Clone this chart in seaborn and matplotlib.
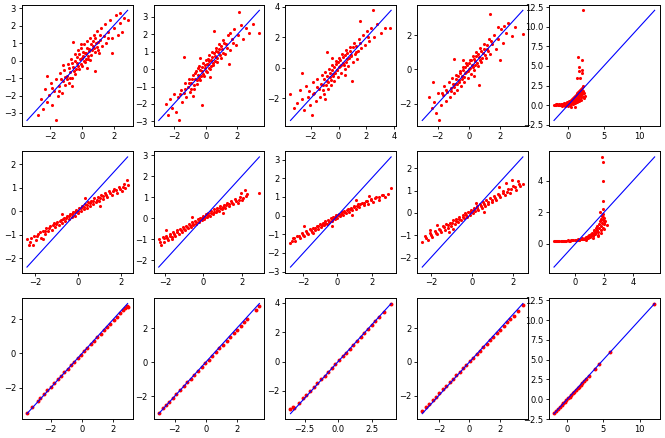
import matplotlib

matplotlib.use("Agg")
import matplotlib.pyplot as plt
import numpy as np
import seaborn as sns

# true value vs prediction, one list of (x, y) pairs per panel
# row 1
p11 = [(-2.72, -3.12), (-2.55, -2.21), (-2.41, -2.75), (-2.30, -1.62), (-2.18, -2.38), (-2.05, -1.98),
       (-1.93, -1.31), (-1.85, -2.55), (-1.74, -1.72), (-1.62, -3.43), (-1.58, -1.05), (-1.50, -2.02),
       (-1.41, -1.48), (-1.33, -0.71), (-1.25, -1.83), (-1.17, -1.15), (-1.08, -0.52), (-1.02, -1.42),
       (-0.95, -0.88), (-0.88, -0.21), (-0.81, -1.26), (-0.73, -0.64), (-0.66, 0.12), (-0.60, -0.97),
       (-0.52, -0.38), (-0.45, 0.35), (-0.39, -0.74), (-0.31, -0.12), (-0.24, 0.58), (-0.18, -0.46),
       (-0.10, 0.09), (-0.03, 0.71), (0.03, -0.31), (0.10, 0.26), (0.17, 0.93), (0.22, -0.08),
       (0.29, 0.45), (0.36, 1.12), (0.41, 0.12), (0.48, 0.66), (0.55, 1.32), (0.61, 0.31),
       (0.68, 0.84), (0.75, 1.48), (0.82, 0.49), (0.89, 1.02), (0.97, 1.71), (1.04, 0.63),
       (1.12, 1.18), (1.20, 1.89), (1.29, 0.82), (1.37, 1.41), (1.46, 2.12), (1.55, 1.02),
       (1.66, 1.63), (1.78, 2.35), (1.90, 1.27), (2.03, 1.88), (2.15, 2.61), (2.28, 1.47),
       (2.41, 2.18), (2.55, 1.61), (2.68, 2.43), (2.88, 2.31), (1.92, 0.45), (-0.52, 1.05),
       (0.85, -0.62), (2.40, 2.75), (-2.20, -0.90)]
e11 = [(-1.05, -0.95), (-0.92, -1.05), (-0.77, -0.45), (-0.71, -0.98), (-0.58, -0.12), (-0.47, -0.62),
       (-0.41, -0.05), (-0.35, -0.48), (-0.27, 0.21), (-0.21, -0.29), (-0.14, 0.38), (-0.06, -0.22),
       (0.01, 0.15), (0.07, 0.52), (0.13, -0.05), (0.19, 0.41), (0.25, 0.12), (0.31, 0.72),
       (0.38, 0.28), (0.44, 0.55), (0.51, 0.05), (0.57, 0.95), (0.63, 0.58), (0.72, 1.12),
       (0.79, 0.71), (0.86, 1.28), (0.93, 0.78), (1.01, 1.05), (1.09, 0.42), (1.15, 1.45),
       (-1.32, -1.05), (-1.45, -1.72), (-1.88, -1.55), (0.35, -0.42), (-0.05, 0.95), (1.62, 1.32),
       (-0.62, -1.48), (-1.15, -0.28)]
p12 = [(-2.52, -1.98), (-2.38, -2.61), (-2.21, -1.72), (-2.10, -2.25), (-1.98, -1.41), (-1.86, -2.48),
       (-1.74, -1.62), (-1.68, -2.95), (-1.57, -1.18), (-1.49, -1.91), (-1.38, -1.36), (-1.29, -0.82),
       (-1.21, -1.58), (-1.12, -1.02), (-1.04, -0.58), (-0.97, -1.33), (-0.89, -0.81), (-0.82, -0.31),
       (-0.75, -1.12), (-0.68, -0.56), (-0.61, -0.08), (-0.54, -0.87), (-0.47, -0.35), (-0.40, 0.16),
       (-0.33, -0.62), (-0.26, -0.12), (-0.19, 0.38), (-0.12, -0.39), (-0.05, 0.08), (0.02, 0.55),
       (0.08, -0.18), (0.15, 0.31), (0.22, 0.79), (0.28, 0.02), (0.35, 0.52), (0.42, 1.01),
       (0.49, 0.21), (0.56, 0.73), (0.63, 1.22), (0.70, 0.42), (0.78, 0.96), (0.86, 1.45),
       (0.94, 0.62), (1.02, 1.18), (1.11, 1.68), (1.20, 0.85), (1.30, 1.42), (1.41, 1.95),
       (1.52, 1.08), (1.64, 1.71), (1.77, 2.28), (1.90, 1.36), (2.05, 1.98), (2.12, 3.27),
       (2.22, 2.52), (2.38, 1.75), (2.55, 2.38), (2.72, 2.05), (2.95, 2.62), (3.38, 2.05),
       (-1.35, 0.72), (-0.22, -2.05), (1.45, 0.28), (0.55, 2.18)]
e12 = [(-1.02, -0.78), (-0.93, -1.12), (-0.84, -0.55), (-0.76, -0.92), (-0.64, -0.22), (-0.55, -0.61),
       (-0.49, 0.05), (-0.42, -0.52), (-0.36, -0.05), (-0.28, -0.41), (-0.21, 0.12), (-0.14, -0.28),
       (-0.07, 0.25), (0.01, -0.12), (0.06, 0.32), (0.12, 0.61), (0.18, 0.08), (0.24, 0.45),
       (0.31, 0.18), (0.37, 0.72), (0.45, 0.35), (0.52, 0.92), (0.59, 0.48), (0.66, 1.05),
       (0.74, 0.62), (0.82, 1.15), (0.91, 0.81), (0.99, 1.31), (1.08, 0.95), (1.18, 1.52),
       (1.36, 1.21), (-1.31, -1.12), (-1.62, -1.45), (0.25, -0.45), (-0.35, 0.65), (1.72, 1.48),
       (-0.82, -1.55), (1.55, 2.05)]
p13 = [(-3.45, -1.72), (-3.21, -2.62), (-2.95, -2.28), (-2.78, -1.45), (-2.62, -2.05), (-2.45, -2.78),
       (-2.31, -1.21), (-2.18, -1.88), (-2.05, -2.41), (-1.92, -3.08), (-1.86, -0.95), (-1.75, -1.62),
       (-1.63, -2.15), (-1.52, -0.71), (-1.42, -1.38), (-1.32, -1.92), (-1.22, -0.48), (-1.13, -1.11),
       (-1.04, -1.68), (-0.95, -0.25), (-0.86, -0.88), (-0.78, -1.41), (-0.70, -0.05), (-0.61, -0.62),
       (-0.53, -1.15), (-0.45, 0.21), (-0.37, -0.38), (-0.29, -0.88), (-0.21, 0.45), (-0.13, -0.12),
       (-0.05, -0.61), (0.03, 0.68), (0.11, 0.12), (0.19, -0.35), (0.27, 0.92), (0.35, 0.35),
       (0.44, -0.08), (0.53, 1.15), (0.62, 0.58), (0.71, 0.15), (0.81, 1.38), (0.91, 0.82),
       (1.01, 0.38), (1.12, 1.62), (1.23, 1.05), (1.35, 0.61), (1.47, 1.88), (1.60, 1.28),
       (1.74, 2.15), (1.88, 1.52), (2.03, 2.41), (2.19, 1.78), (2.36, 2.65), (2.45, 3.78),
       (2.55, 2.02), (2.78, 2.85), (3.02, 2.31), (3.35, 2.62), (3.68, 2.62), (-0.85, 1.05),
       (0.95, -0.85), (-2.65, -0.35), (1.55, 3.05)]
e13 = [(-1.25, -1.05), (-1.12, -1.42), (-1.01, -0.72), (-0.91, -1.15), (-0.81, -0.52), (-0.72, -0.95),
       (-0.63, -0.31), (-0.55, -0.78), (-0.47, -0.15), (-0.39, -0.55), (-0.32, 0.05), (-0.24, -0.32),
       (-0.16, 0.28), (-0.09, -0.15), (-0.02, 0.42), (0.05, 0.05), (0.13, 0.55), (0.21, 0.22),
       (0.29, 0.71), (0.37, 0.18), (0.46, 0.85), (0.55, 0.41), (0.64, 0.95), (0.73, 0.62),
       (0.83, 1.12), (0.93, 0.75), (1.05, 1.35), (1.16, 0.92), (1.28, 1.45), (1.41, 1.12),
       (1.55, 1.65), (-1.55, -1.25), (-1.85, -1.72), (-2.15, -1.52), (0.45, -0.45), (-0.45, 0.62),
       (2.10, 2.05), (-1.00, -2.05)]
p14 = [(-2.52, -1.62), (-2.38, -2.28), (-2.21, -1.88), (-2.08, -2.55), (-1.95, -1.35), (-1.88, -2.98),
       (-1.79, -2.05), (-1.68, -1.52), (-1.57, -0.98), (-1.48, -1.85), (-1.39, -1.31), (-1.30, -0.75),
       (-1.21, -1.62), (-1.13, -1.08), (-1.05, -0.52), (-0.97, -1.38), (-0.89, -0.85), (-0.81, -0.31),
       (-0.74, -1.18), (-0.66, -0.62), (-0.59, -0.08), (-0.52, -0.95), (-0.44, -0.41), (-0.37, 0.12),
       (-0.30, -0.72), (-0.23, -0.21), (-0.16, 0.35), (-0.09, -0.48), (-0.02, 0.02), (0.05, 0.56),
       (0.12, -0.25), (0.19, 0.25), (0.26, 0.78), (0.33, -0.02), (0.40, 0.48), (0.48, 1.01),
       (0.55, 0.21), (0.63, 0.72), (0.71, 1.25), (0.79, 0.45), (0.88, 0.95), (0.97, 1.48),
       (1.06, 0.68), (1.16, 1.21), (1.26, 1.75), (1.32, 3.20), (1.37, 0.92), (1.49, 1.48),
       (1.61, 2.02), (1.74, 1.18), (1.88, 1.78), (2.02, 2.35), (2.18, 1.52), (2.35, 2.12),
       (2.52, 2.68), (2.72, 1.92), (2.95, 2.45), (3.44, 2.08), (-0.95, 0.62), (0.65, -0.92),
       (1.95, 0.55), (-2.30, -0.72)]
e14 = [(-1.12, -1.28), (-1.01, -0.85), (-0.93, -1.05), (-0.85, -0.55), (-0.77, -0.88), (-0.69, -0.38),
       (-0.61, -0.72), (-0.54, -0.21), (-0.47, -0.58), (-0.40, -0.05), (-0.33, -0.42), (-0.26, 0.15),
       (-0.19, -0.18), (-0.12, 0.28), (-0.05, -0.12), (0.02, 0.38), (0.09, 0.08), (0.16, 0.52),
       (0.23, 0.15), (0.30, 0.62), (0.37, 0.28), (0.45, 0.75), (0.52, 0.38), (0.60, 0.92),
       (0.68, 0.55), (0.77, 1.08), (0.85, 0.68), (0.94, 1.18), (1.03, 0.85), (1.13, 1.42),
       (1.24, 1.05), (1.42, 1.68), (-1.45, -1.18), (-1.72, -1.35), (0.35, -0.38), (-0.35, 0.55),
       (1.85, 2.45), (2.25, 2.55)]
p15 = [(-1.95, 0.05), (-1.78, 0.08), (-1.62, 0.02), (-1.51, 0.10), (-1.38, 0.04), (-1.25, 0.12),
       (-1.12, 0.01), (-1.02, 0.15), (-0.91, 0.06), (-0.82, -0.08), (-0.72, 0.18), (-0.63, 0.09),
       (-0.55, 0.25), (-0.46, -0.05), (-0.38, 0.14), (-0.30, 0.32), (-0.22, 0.05), (-0.15, 0.22),
       (-0.08, 0.41), (0.00, -0.12), (0.06, 0.15), (0.13, 0.35), (0.20, 0.55), (0.27, 0.08),
       (0.34, 0.28), (0.41, 0.62), (0.48, 0.18), (0.55, 0.45), (0.62, 0.82), (0.69, 0.12),
       (0.76, 0.38), (0.83, 0.71), (0.90, 1.05), (0.97, 0.25), (1.04, 0.58), (1.11, 0.95),
       (1.18, 1.35), (1.25, 0.42), (1.32, 0.78), (1.39, 1.18), (1.46, 1.62), (1.53, 0.55),
       (1.60, 0.98), (1.67, 1.45), (1.74, 1.95), (1.81, 0.72), (1.88, 1.25), (1.95, 1.82),
       (2.02, 2.18), (2.10, 1.05), (2.22, 1.52), (2.38, 1.12), (2.05, 2.45), (1.37, 6.10),
       (1.90, 5.80), (1.52, 4.90), (1.52, 4.30), (1.92, 4.50), (1.92, 4.10), (1.30, 3.50),
       (1.65, 3.45), (2.10, 12.10), (1.05, -0.25), (0.45, -0.18)]
e15 = [(0.05, 0.05), (0.15, 0.22), (0.25, 0.12), (0.35, 0.45), (0.45, 0.32), (0.52, 0.62),
       (0.60, 0.25), (0.68, 0.55), (0.75, 0.95), (0.82, 0.42), (0.88, 0.72), (0.95, 1.22),
       (1.02, 0.35), (1.08, 0.82), (1.15, 1.15), (1.22, 0.62), (1.28, 1.52), (1.35, 0.95),
       (1.42, 1.35), (1.48, 0.78), (1.55, 1.85), (1.62, 1.22), (1.70, 1.65), (1.78, 1.05),
       (1.85, 2.02), (1.92, 1.45), (2.00, 1.65), (2.15, 1.85), (2.30, 0.95), (-0.60, 0.02),
       (-0.90, 0.12), (-1.30, 0.08), (-1.70, 0.12), (-0.35, 0.05)]

# row 2
p21 = [(-2.38, -1.18), (-2.25, -1.32), (-2.12, -1.45), (-2.05, -1.05), (-1.95, -1.22), (-1.85, -0.98),
       (-1.74, -1.12), (-1.65, -0.82), (-1.56, -0.95), (-1.47, -0.72), (-1.38, -0.85), (-1.29, -0.61),
       (-1.21, -0.78), (-1.13, -0.52), (-1.05, -0.68), (-0.97, -0.45), (-0.89, -0.59), (-0.81, -0.36),
       (-0.74, -0.51), (-0.66, -0.28), (-0.59, -0.42), (-0.51, -0.19), (-0.44, -0.35), (-0.37, -0.11),
       (-0.30, -0.26), (-0.23, -0.02), (-0.16, -0.18), (-0.09, 0.06), (-0.02, -0.09), (0.05, 0.14),
       (0.12, 0.01), (0.19, 0.22), (0.26, 0.08), (0.33, 0.31), (0.40, 0.16), (0.47, 0.39),
       (0.54, 0.24), (0.61, 0.46), (0.69, 0.31), (0.76, 0.55), (0.84, 0.39), (0.92, 0.62),
       (1.00, 0.46), (1.09, 0.68), (1.18, 0.53), (1.27, 0.78), (1.37, 0.61), (1.47, 0.85),
       (1.58, 0.69), (1.69, 0.93), (1.81, 0.78), (1.93, 1.02), (2.05, 0.88), (2.16, 1.18),
       (2.28, 1.34), (2.22, 0.98), (1.05, 0.22), (-0.75, -0.12), (-1.62, -1.18), (0.35, 0.58)]
e21 = [(-1.92, -1.05), (-1.78, -0.88), (-1.52, -0.82), (-1.35, -0.72), (-1.18, -0.58), (-1.02, -0.55),
       (-0.86, -0.42), (-0.71, -0.35), (-0.56, -0.28), (-0.42, -0.18), (-0.27, -0.12), (-0.13, -0.02),
       (0.02, 0.02), (0.16, 0.12), (0.30, 0.18), (0.44, 0.28), (0.58, 0.35), (0.72, 0.45),
       (0.87, 0.50), (1.02, 0.58), (1.17, 0.66), (1.32, 0.71), (1.48, 0.79), (1.64, 0.86),
       (1.80, 0.90), (1.98, 0.96), (2.12, 1.05), (-2.28, -1.42), (-2.18, -1.12), (2.32, 1.12)]
p22 = [(-2.32, -0.98), (-2.21, -1.25), (-2.12, -0.88), (-2.02, -1.12), (-1.92, -0.82), (-1.83, -1.02),
       (-1.74, -0.75), (-1.65, -0.91), (-1.56, -0.66), (-1.47, -0.82), (-1.38, -0.58), (-1.29, -0.73),
       (-1.21, -0.50), (-1.13, -0.65), (-1.05, -0.42), (-0.97, -0.56), (-0.89, -0.35), (-0.81, -0.48),
       (-0.73, -0.27), (-0.66, -0.40), (-0.58, -0.19), (-0.51, -0.32), (-0.44, -0.12), (-0.37, -0.25),
       (-0.30, -0.04), (-0.23, -0.17), (-0.16, 0.03), (-0.09, -0.09), (-0.02, 0.11), (0.05, -0.02),
       (0.12, 0.19), (0.19, 0.06), (0.26, 0.26), (0.33, 0.13), (0.41, 0.34), (0.48, 0.21),
       (0.56, 0.42), (0.64, 0.28), (0.72, 0.49), (0.80, 0.36), (0.88, 0.57), (0.97, 0.44),
       (1.06, 0.65), (1.15, 0.51), (1.25, 0.73), (1.35, 0.59), (1.45, 0.82), (1.56, 0.66),
       (1.67, 0.91), (1.79, 0.75), (1.91, 1.02), (2.03, 0.86), (2.15, 1.35), (2.25, 1.15),
       (2.92, 1.18), (-1.95, -0.55), (1.00, 0.25), (-0.60, 0.05)]
e22 = [(-2.05, -0.95), (-1.88, -0.92), (-1.71, -0.83), (-1.52, -0.75), (-1.35, -0.66), (-1.17, -0.57),
       (-1.00, -0.49), (-0.84, -0.41), (-0.68, -0.33), (-0.52, -0.25), (-0.36, -0.17), (-0.20, -0.08),
       (-0.05, 0.01), (0.10, 0.07), (0.25, 0.15), (0.40, 0.24), (0.55, 0.31), (0.70, 0.39),
       (0.85, 0.47), (1.01, 0.55), (1.17, 0.62), (1.33, 0.68), (1.50, 0.74), (1.68, 0.83),
       (1.85, 0.88), (2.05, 0.98), (2.20, 1.05), (-2.25, -1.12), (-1.62, -0.98), (1.95, 1.18)]
p23 = [(-2.76, -1.46), (-2.62, -1.22), (-2.48, -1.35), (-2.35, -1.08), (-2.22, -1.21), (-2.08, -0.95),
       (-1.96, -1.12), (-1.84, -0.85), (-1.73, -0.99), (-1.62, -0.74), (-1.52, -0.88), (-1.42, -0.64),
       (-1.32, -0.79), (-1.23, -0.55), (-1.14, -0.70), (-1.05, -0.46), (-0.96, -0.61), (-0.88, -0.38),
       (-0.80, -0.52), (-0.72, -0.30), (-0.64, -0.44), (-0.56, -0.22), (-0.48, -0.36), (-0.40, -0.14),
       (-0.32, -0.28), (-0.24, -0.06), (-0.16, -0.20), (-0.08, 0.02), (0.00, -0.11), (0.08, 0.10),
       (0.16, -0.03), (0.24, 0.18), (0.32, 0.05), (0.41, 0.26), (0.50, 0.13), (0.59, 0.35),
       (0.68, 0.21), (0.77, 0.43), (0.87, 0.29), (0.97, 0.52), (1.07, 0.38), (1.18, 0.61),
       (1.29, 0.46), (1.41, 0.70), (1.53, 0.55), (1.66, 0.80), (1.80, 0.64), (1.94, 0.90),
       (2.09, 0.74), (2.25, 1.01), (2.42, 0.86), (2.60, 1.12), (2.80, 0.98), (3.15, 1.46),
       (-1.95, -0.55), (0.85, 0.02), (-0.35, -0.55), (1.85, 1.05)]
e23 = [(-2.55, -1.18), (-2.28, -1.12), (-2.02, -1.02), (-1.78, -0.91), (-1.55, -0.79), (-1.33, -0.68),
       (-1.12, -0.58), (-0.92, -0.49), (-0.72, -0.38), (-0.52, -0.28), (-0.33, -0.19), (-0.14, -0.09),
       (0.04, 0.02), (0.22, 0.09), (0.40, 0.19), (0.58, 0.28), (0.76, 0.36), (0.95, 0.45),
       (1.14, 0.53), (1.34, 0.60), (1.55, 0.68), (1.76, 0.77), (1.98, 0.83), (2.20, 0.92),
       (2.45, 1.02), (2.70, 1.08), (-2.65, -1.38), (2.95, 1.18), (-1.45, -0.95), (1.10, 0.82)]
p24 = [(-2.42, -1.29), (-2.28, -1.05), (-2.15, -1.22), (-2.03, -0.92), (-1.92, -1.08), (-1.81, -0.81),
       (-1.71, -0.96), (-1.61, -0.70), (-1.51, -0.86), (-1.42, -0.60), (-1.33, -0.76), (-1.24, -0.51),
       (-1.15, -0.67), (-1.07, -0.43), (-0.99, -0.58), (-0.91, -0.34), (-0.83, -0.50), (-0.75, -0.26),
       (-0.67, -0.42), (-0.60, -0.18), (-0.52, -0.33), (-0.45, -0.10), (-0.38, -0.25), (-0.31, -0.02),
       (-0.24, -0.17), (-0.17, 0.06), (-0.10, -0.09), (-0.03, 0.14), (0.04, -0.01), (0.11, 0.22),
       (0.18, 0.07), (0.25, 0.31), (0.32, 0.15), (0.40, 0.39), (0.48, 0.24), (0.56, 0.48),
       (0.64, 0.32), (0.72, 0.57), (0.81, 0.41), (0.90, 0.66), (0.99, 0.50), (1.09, 0.76),
       (1.19, 0.59), (1.29, 0.86), (1.40, 0.69), (1.51, 0.96), (1.63, 0.79), (1.75, 1.07),
       (1.88, 0.90), (1.95, 1.45), (2.02, 1.18), (2.16, 1.02), (2.32, 1.28), (2.50, 1.31),
       (-1.72, -0.52), (0.60, 0.05), (1.35, 1.15), (-0.90, -0.72)]
e24 = [(-2.22, -1.12), (-1.98, -1.01), (-1.76, -0.89), (-1.55, -0.77), (-1.35, -0.65), (-1.16, -0.56),
       (-0.97, -0.47), (-0.79, -0.38), (-0.61, -0.29), (-0.43, -0.19), (-0.26, -0.09), (-0.08, 0.02),
       (0.09, 0.11), (0.26, 0.22), (0.43, 0.31), (0.61, 0.41), (0.79, 0.50), (0.97, 0.59),
       (1.15, 0.68), (1.34, 0.78), (1.53, 0.88), (1.72, 0.95), (1.92, 1.05), (2.12, 1.15),
       (2.35, 1.22), (-2.05, -0.78), (1.65, 1.32), (2.25, 1.42), (-1.10, -0.85), (0.20, 0.45)]
p25 = [(-1.46, 0.17), (-1.35, 0.18), (-1.22, 0.17), (-1.10, 0.19), (-0.98, 0.18), (-0.86, 0.20),
       (-0.74, 0.19), (-0.62, 0.21), (-0.50, 0.22), (-0.38, 0.21), (-0.26, 0.23), (-0.14, 0.25),
       (-0.02, 0.24), (0.10, 0.27), (0.20, 0.29), (0.30, 0.28), (0.40, 0.32), (0.50, 0.35),
       (0.58, 0.31), (0.66, 0.38), (0.74, 0.42), (0.82, 0.36), (0.90, 0.48), (0.98, 0.54),
       (1.04, 0.44), (1.10, 0.62), (1.16, 0.71), (1.22, 0.52), (1.28, 0.80), (1.34, 0.91),
       (1.40, 0.62), (1.46, 1.02), (1.52, 1.15), (1.58, 0.75), (1.64, 1.28), (1.70, 1.42),
       (1.76, 0.88), (1.82, 1.58), (1.88, 1.75), (1.92, 1.02), (1.95, 1.90), (1.98, 1.35),
       (2.02, 1.62), (2.18, 1.20), (1.90, 2.24), (1.92, 2.70), (1.93, 3.95), (1.91, 5.20),
       (1.88, 5.50), (0.75, 0.25), (1.25, 0.35), (1.55, 0.48), (1.72, 2.05)]
e25 = [(-1.40, 0.16), (-1.15, 0.17), (-0.90, 0.19), (-0.68, 0.20), (-0.45, 0.21), (-0.20, 0.23),
       (0.05, 0.26), (0.25, 0.27), (0.45, 0.30), (0.62, 0.33), (0.78, 0.38), (0.92, 0.40),
       (1.05, 0.50), (1.18, 0.58), (1.30, 0.66), (1.42, 0.75), (1.54, 0.86), (1.66, 0.98),
       (1.78, 1.12), (1.85, 1.30), (1.93, 1.50), (1.96, 1.70), (2.00, 1.25), (2.10, 1.45),
       (1.60, 0.58), (1.80, 0.72), (1.97, 0.95)]

# row 3
p31 = [(-3.52, -3.48), (-3.18, -3.15), (-2.82, -2.76), (-2.71, -2.62), (-2.45, -2.38), (-2.21, -2.16),
       (-1.98, -1.95), (-1.76, -1.73), (-1.55, -1.52), (-1.34, -1.32), (-1.12, -1.11), (-0.91, -0.90),
       (-0.70, -0.70), (-0.49, -0.49), (-0.28, -0.29), (-0.07, -0.08), (0.14, 0.12), (0.35, 0.33),
       (0.56, 0.53), (0.77, 0.74), (0.98, 0.94), (1.19, 1.14), (1.40, 1.35), (1.61, 1.55),
       (1.82, 1.75), (2.03, 1.95), (2.24, 2.15), (2.45, 2.35), (2.62, 2.52), (2.75, 2.64),
       (2.88, 2.78), (2.92, 2.72)]
p32 = [(-3.02, -2.98), (-2.72, -2.68), (-2.58, -2.52), (-2.35, -2.31), (-2.12, -2.09), (-1.88, -1.86),
       (-1.65, -1.63), (-1.42, -1.41), (-1.19, -1.18), (-0.96, -0.96), (-0.73, -0.74), (-0.50, -0.51),
       (-0.27, -0.29), (-0.04, -0.06), (0.19, 0.16), (0.42, 0.38), (0.65, 0.60), (0.88, 0.82),
       (1.11, 1.04), (1.34, 1.26), (1.57, 1.48), (1.80, 1.70), (2.03, 1.92), (2.26, 2.14),
       (2.49, 2.37), (2.65, 2.52), (3.22, 3.08), (3.45, 3.30)]
p33 = [(-3.55, -3.22), (-3.35, -3.12), (-3.28, -3.18), (-2.95, -2.80), (-2.62, -2.48), (-2.38, -2.25),
       (-2.10, -1.98), (-1.82, -1.72), (-1.55, -1.46), (-1.28, -1.20), (-1.01, -0.95), (-0.74, -0.69),
       (-0.47, -0.43), (-0.20, -0.17), (0.07, 0.09), (0.34, 0.35), (0.61, 0.62), (0.88, 0.88),
       (1.15, 1.14), (1.42, 1.41), (1.69, 1.67), (1.96, 1.94), (2.23, 2.21), (2.50, 2.48),
       (2.78, 2.75), (3.05, 3.02), (3.40, 3.36), (3.96, 3.94)]
p34 = [(-3.08, -2.95), (-2.85, -2.70), (-2.62, -2.48), (-2.40, -2.27), (-2.18, -2.06), (-1.96, -1.85),
       (-1.74, -1.64), (-1.52, -1.43), (-1.30, -1.22), (-1.08, -1.01), (-0.86, -0.80), (-0.64, -0.59),
       (-0.42, -0.38), (-0.20, -0.17), (0.02, 0.04), (0.24, 0.25), (0.46, 0.46), (0.68, 0.67),
       (0.90, 0.88), (1.12, 1.09), (1.34, 1.30), (1.56, 1.51), (1.78, 1.72), (2.00, 1.93),
       (2.22, 2.14), (2.44, 2.35), (2.66, 2.56), (2.88, 2.75), (3.15, 3.05), (3.48, 3.40)]
p35 = [(-1.82, -1.78), (-1.55, -1.50), (-1.28, -1.22), (-1.02, -0.98), (-0.78, -0.74), (-0.55, -0.52),
       (-0.32, -0.30), (-0.10, -0.09), (0.12, 0.12), (0.34, 0.33), (0.56, 0.54), (0.78, 0.75),
       (1.00, 0.96), (1.22, 1.17), (1.44, 1.38), (1.66, 1.60), (1.88, 1.82), (2.10, 2.04),
       (2.35, 2.28), (2.62, 2.55), (2.95, 2.90), (3.80, 3.78), (4.45, 4.48), (5.95, 5.98),
       (12.05, 12.08)]

panels = [
    [p11 + e11, p12 + e12, p13 + e13, p14 + e14, p15 + e15],
    [p21 + e21, p22 + e22, p23 + e23, p24 + e24, p25 + e25],
    [p31, p32, p33, p34, p35],
]
marker_size = [5, 5, 8]

plt.rcParams["font.size"] = 6
plt.rcParams["axes.linewidth"] = 0.7
for k in ("xtick", "ytick"):
    plt.rcParams[f"{k}.major.size"] = 2.2
    plt.rcParams[f"{k}.major.width"] = 0.6
    plt.rcParams[f"{k}.major.pad"] = 2

fig, axes = plt.subplots(3, 5, figsize=(6.65, 4.38), dpi=100)
fig.subplots_adjust(left=0.033, right=0.992, bottom=0.043, top=0.989, wspace=0.19, hspace=0.21)

for r, row in enumerate(panels):
    for c, pts in enumerate(row):
        ax = axes[r, c]
        xy = np.array(pts)
        x, y = xy[:, 0], xy[:, 1]
        sns.scatterplot(x=x, y=y, ax=ax, color="red", s=marker_size[r], linewidth=0)
        # diagonal reference line over the full data range
        lo = min(x.min(), y.min())
        hi = max(x.max(), y.max())
        sns.lineplot(x=[lo, hi], y=[lo, hi], ax=ax, color="blue", linewidth=0.8)

fig.savefig("out.png", dpi=100)
plt.close(fig)
